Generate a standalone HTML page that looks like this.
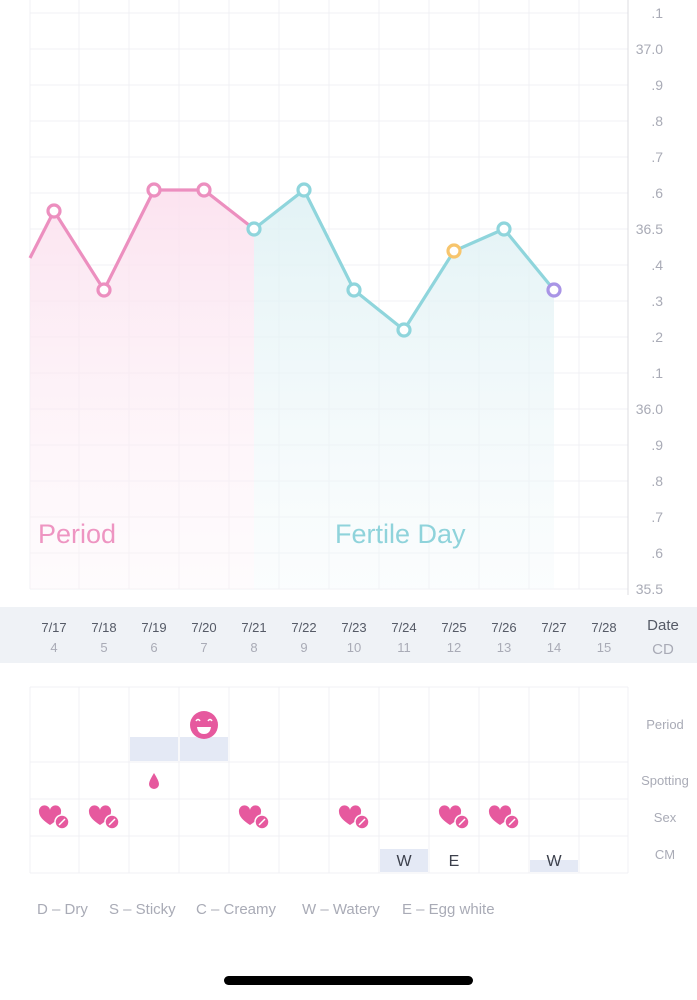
<!DOCTYPE html>
<html><head><style>
body{margin:0;width:697px;height:1000px;background:#fff;font-family:"Liberation Sans",sans-serif;overflow:hidden;position:relative}
</style></head><body>
<svg width="697" height="1000" style="position:absolute;left:0;top:0" font-family="Liberation Sans, sans-serif">
<defs>
<linearGradient id="pk" x1="0" y1="0" x2="0" y2="1"><stop offset="0" stop-color="#fbe0ee" stop-opacity="0.9"/><stop offset="1" stop-color="#fdf3f8" stop-opacity="0.3"/></linearGradient>
<linearGradient id="bl" x1="0" y1="0" x2="0" y2="1"><stop offset="0" stop-color="#dff1f4" stop-opacity="0.9"/><stop offset="1" stop-color="#f1f8fa" stop-opacity="0.3"/></linearGradient>
</defs>
<g stroke="#f1f1f4" stroke-width="1">
<line x1="30" y1="13" x2="628" y2="13"/><line x1="30" y1="49" x2="628" y2="49"/><line x1="30" y1="85" x2="628" y2="85"/><line x1="30" y1="121" x2="628" y2="121"/><line x1="30" y1="157" x2="628" y2="157"/><line x1="30" y1="193" x2="628" y2="193"/><line x1="30" y1="229" x2="628" y2="229"/><line x1="30" y1="265" x2="628" y2="265"/><line x1="30" y1="301" x2="628" y2="301"/><line x1="30" y1="337" x2="628" y2="337"/><line x1="30" y1="373" x2="628" y2="373"/><line x1="30" y1="409" x2="628" y2="409"/><line x1="30" y1="445" x2="628" y2="445"/><line x1="30" y1="481" x2="628" y2="481"/><line x1="30" y1="517" x2="628" y2="517"/><line x1="30" y1="553" x2="628" y2="553"/><line x1="30" y1="589" x2="628" y2="589"/>
<line x1="30" y1="0" x2="30" y2="589"/><line x1="79" y1="0" x2="79" y2="589"/><line x1="129" y1="0" x2="129" y2="589"/><line x1="179" y1="0" x2="179" y2="589"/><line x1="229" y1="0" x2="229" y2="589"/><line x1="279" y1="0" x2="279" y2="589"/><line x1="329" y1="0" x2="329" y2="589"/><line x1="379" y1="0" x2="379" y2="589"/><line x1="429" y1="0" x2="429" y2="589"/><line x1="479" y1="0" x2="479" y2="589"/><line x1="529" y1="0" x2="529" y2="589"/><line x1="579" y1="0" x2="579" y2="589"/>
</g>
<line x1="628" y1="0" x2="628" y2="595" stroke="#dcdce2"/>
<path d="M30,258 L54,211 L104,290 L154,190 L204,190 L254,229 L254,589 L30,589Z" fill="url(#pk)"/>
<path d="M254,229 L304,190 L354,290 L404,330 L454,251 L504,229 L554,290 L554,589 L254,589Z" fill="url(#bl)"/>
<polyline points="30,258 54,211 104,290 154,190 204,190 254,229" fill="none" stroke="#ec8fbf" stroke-width="3.2"/>
<polyline points="254,229 304,190 354,290 404,330 454,251 504,229 554,290" fill="none" stroke="#8fd5dc" stroke-width="3.2"/>
<g fill="#fff" stroke-width="3.2">
<circle cx="54" cy="211" r="6" stroke="#ec8fbf"/><circle cx="104" cy="290" r="6" stroke="#ec8fbf"/><circle cx="154" cy="190" r="6" stroke="#ec8fbf"/><circle cx="204" cy="190" r="6" stroke="#ec8fbf"/>
<circle cx="254" cy="229" r="6" stroke="#8fd5dc"/><circle cx="304" cy="190" r="6" stroke="#8fd5dc"/><circle cx="354" cy="290" r="6" stroke="#8fd5dc"/><circle cx="404" cy="330" r="6" stroke="#8fd5dc"/><circle cx="454" cy="251" r="6" stroke="#f7c56d"/><circle cx="504" cy="229" r="6" stroke="#8fd5dc"/><circle cx="554" cy="290" r="6" stroke="#a995e6"/>
</g>
<text x="38" y="543" font-size="27" fill="#ee95c2">Period</text>
<text x="335" y="543" font-size="27" fill="#8fd3db">Fertile Day</text>
<g font-size="14" fill="#a9abb6" text-anchor="end">
<text x="663" y="18">.1</text><text x="663" y="54">37.0</text><text x="663" y="90">.9</text><text x="663" y="126">.8</text><text x="663" y="162">.7</text><text x="663" y="198">.6</text><text x="663" y="234">36.5</text><text x="663" y="270">.4</text><text x="663" y="306">.3</text><text x="663" y="342">.2</text><text x="663" y="378">.1</text><text x="663" y="414">36.0</text><text x="663" y="450">.9</text><text x="663" y="486">.8</text><text x="663" y="522">.7</text><text x="663" y="558">.6</text><text x="663" y="594">35.5</text>
</g>
<rect x="0" y="607" width="697" height="56" fill="#eff2f6"/>
<g font-size="13" text-anchor="middle">
<g fill="#555a66"><text x="54" y="632">7/17</text><text x="104" y="632">7/18</text><text x="154" y="632">7/19</text><text x="204" y="632">7/20</text><text x="254" y="632">7/21</text><text x="304" y="632">7/22</text><text x="354" y="632">7/23</text><text x="404" y="632">7/24</text><text x="454" y="632">7/25</text><text x="504" y="632">7/26</text><text x="554" y="632">7/27</text><text x="604" y="632">7/28</text></g>
<g fill="#a9abb6"><text x="54" y="652">4</text><text x="104" y="652">5</text><text x="154" y="652">6</text><text x="204" y="652">7</text><text x="254" y="652">8</text><text x="304" y="652">9</text><text x="354" y="652">10</text><text x="404" y="652">11</text><text x="454" y="652">12</text><text x="504" y="652">13</text><text x="554" y="652">14</text><text x="604" y="652">15</text></g>
<text x="663" y="630" font-size="15" fill="#555a66">Date</text><text x="663" y="654" font-size="15" fill="#a9abb6">CD</text>
</g>
<rect x="130" y="737" width="48" height="24" fill="#e4e9f5"/><rect x="180" y="737" width="48" height="24" fill="#e4e9f5"/>
<rect x="380" y="849" width="48" height="23" fill="#e4e9f5"/><rect x="530" y="860" width="48" height="12" fill="#e4e9f5"/>
<g stroke="#f1f1f4">
<line x1="30" y1="687" x2="628" y2="687"/><line x1="30" y1="762" x2="628" y2="762"/><line x1="30" y1="799" x2="628" y2="799"/><line x1="30" y1="836" x2="628" y2="836"/><line x1="30" y1="873" x2="628" y2="873"/>
<line x1="30" y1="687" x2="30" y2="873"/><line x1="79" y1="687" x2="79" y2="873"/><line x1="129" y1="687" x2="129" y2="873"/><line x1="179" y1="687" x2="179" y2="873"/><line x1="229" y1="687" x2="229" y2="873"/><line x1="279" y1="687" x2="279" y2="873"/><line x1="329" y1="687" x2="329" y2="873"/><line x1="379" y1="687" x2="379" y2="873"/><line x1="429" y1="687" x2="429" y2="873"/><line x1="479" y1="687" x2="479" y2="873"/><line x1="529" y1="687" x2="529" y2="873"/><line x1="579" y1="687" x2="579" y2="873"/><line x1="628" y1="687" x2="628" y2="873"/>
</g>
<circle cx="204" cy="725" r="14" fill="#e6599e"/>
<path d="M196,721 q2,-3 4,0 M208,721 q2,-3 4,0" stroke="#fff" stroke-width="1.5" fill="none"/>
<path d="M197,727 h14 q-1,7 -7,7 q-6,0 -7,-7z" fill="#fff"/>
<path d="M154,773 q-5,8 -5,11 a5,5 0 0 0 10,0 q0,-3 -5,-11z" fill="#e6599e"/>
<g id="h">
<path d="M50,825 q-11,-7 -11,-13 a5.5,5.5 0 0 1 11,-2 a5.5,5.5 0 0 1 11,2 q0,6 -11,13z" fill="#e6599e"/>
<circle cx="62" cy="822" r="7" fill="#e6599e" stroke="#fff" stroke-width="1.5"/>
<line x1="59" y1="825" x2="65" y2="819" stroke="#fff" stroke-width="1.5"/>
</g>
<use href="#h" x="50"/><use href="#h" x="200"/><use href="#h" x="300"/><use href="#h" x="400"/><use href="#h" x="450"/>
<g font-size="16" fill="#3c404c" text-anchor="middle"><text x="404" y="866">W</text><text x="454" y="866">E</text><text x="554" y="866">W</text></g>
<g font-size="13" fill="#a9abb6" text-anchor="middle"><text x="665" y="729">Period</text><text x="665" y="785">Spotting</text><text x="665" y="822">Sex</text><text x="665" y="859">CM</text></g>
<g font-size="15" fill="#a9abb6"><text x="37" y="914">D – Dry</text><text x="109" y="914">S – Sticky</text><text x="196" y="914">C – Creamy</text><text x="302" y="914">W – Watery</text><text x="402" y="914">E – Egg white</text></g>
<rect x="224" y="976" width="249" height="9" rx="4.5" fill="#000"/>
</svg>
</body></html>
